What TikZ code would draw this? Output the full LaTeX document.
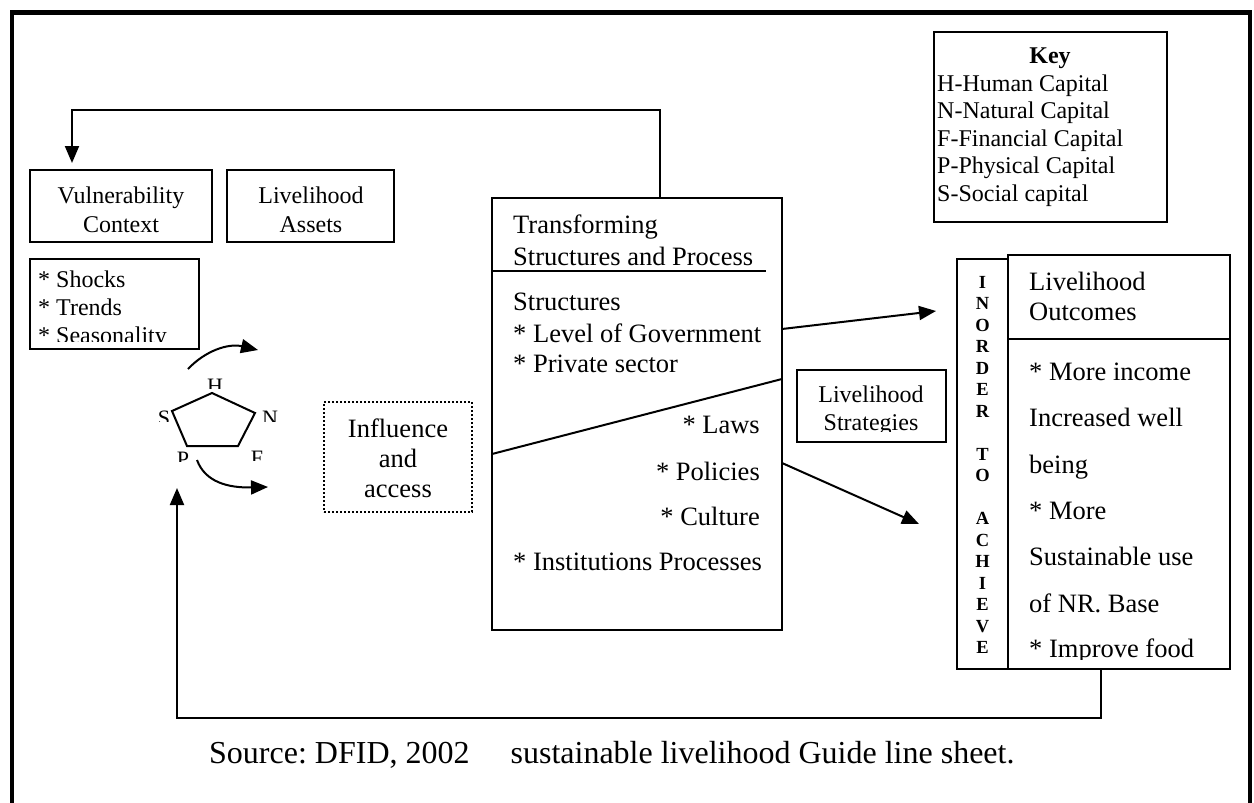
\documentclass[tikz,border=0pt]{standalone}
\usepackage{fontspec}
\setmainfont{Liberation Serif}
\usetikzlibrary{arrows.meta}
\frenchspacing
\begin{document}
\begin{tikzpicture}[x=1pt,y=-1pt,
  box/.style={draw,line width=2pt,inner sep=0pt,outer sep=0pt,anchor=north west},
  conn/.style={line width=2pt},
  arr/.style={line width=2pt,-{Triangle[length=17pt,width=14pt]}},
  ts/.style={font=\fontsize{24}{27}\selectfont,inner sep=0pt,anchor=base west},
  tsc/.style={font=\fontsize{24}{27}\selectfont,inner sep=0pt,anchor=base},
  tm/.style={font=\fontsize{26.5}{30}\selectfont,inner sep=0pt,anchor=base west},
  tmc/.style={font=\fontsize{26.5}{30}\selectfont,inner sep=0pt,anchor=base},
  tmr/.style={font=\fontsize{26.5}{30}\selectfont,inner sep=0pt,anchor=base east},
  colL/.style={font=\bfseries\fontsize{18.5}{21.5}\selectfont,inner sep=0pt,anchor=base},
  pl/.style={font=\fontsize{22}{24}\selectfont,inner sep=0pt,anchor=north},
]
\useasboundingbox (0,0) rectangle (1254,803);
\fill[white] (0,0) rectangle (1254,803);
% outer frame
\draw[line width=4.5pt,line join=miter] (12,810) -- (12,12.5) -- (1250,12.5) -- (1250,810);

% boxes
\node[box,minimum width=182pt,minimum height=72pt] (vc) at (30,170) {};
\node[tsc] (vc1) at (121,203) {Vulnerability};
\node[tsc] (vc2) at (121,232) {Context};

\node[box,minimum width=167pt,minimum height=72pt] (la) at (227,170) {};
\node[tsc] (la1) at (311,203) {Livelihood};
\node[tsc] (la2) at (311,232) {Assets};

\node[box,minimum width=169pt,minimum height=90pt] (sh) at (30,259) {};
\node[ts] (sh1) at (38,287) {* Shocks};
\node[ts] (sh2) at (38,315) {* Trends};
\begin{scope}
  \clip (32,320) rectangle (197,341);
  \node[ts] (sh3) at (38,343) {* Seasonality};
\end{scope}

% key
\node[box,minimum width=233pt,minimum height=190pt] (key) at (934,32) {};
\node[tsc,font=\bfseries\fontsize{24}{27}\selectfont] (k0) at (1050,63) {Key};
\node[ts] (k1) at (937,91) {H-Human Capital};
\node[ts] (k2) at (937,118.5) {N-Natural Capital};
\node[ts] (k3) at (937,146) {F-Financial Capital};
\node[ts] (k4) at (937,173.5) {P-Physical Capital};
\node[ts] (k5) at (937,201) {S-Social capital};

% transforming structures
\node[box,minimum width=290pt,minimum height=432pt] (tr) at (492,198) {};
\node[tm] (tr1) at (513,233) {Transforming};
\node[tm] (tr2) at (513,265) {Structures and Process};
\draw[conn] ([yshift=-73pt]tr.north west) -- ++(274,0);
\node[tm] (tr3) at (513,310) {Structures};
\node[tm] (tr4) at (513,342) {* Level of Government};
\node[tm] (tr5) at (513,372) {* Private sector};
\draw[conn] ([yshift=-256pt]tr.north west) -- ([yshift=-181pt]tr.north east);
\node[tmr] (tr6) at (760,433) {* Laws};
\node[tmr] (tr7) at (760,480) {* Policies};
\node[tmr] (tr8) at (760,525) {* Culture};
\node[tm] (tr9) at (513,570) {* Institutions Processes};

% influence and access
\node[box,draw,line width=1.5pt,dash pattern=on 2pt off 2pt,minimum width=148pt,minimum height=110pt] (ia) at (324,402) {};
\node[tmc] (ia1) at (398,437) {Influence};
\node[tmc] (ia2) at (398,467) {and};
\node[tmc] (ia3) at (398,497) {access};

% livelihood strategies
\node[box,minimum width=149pt,minimum height=72pt] (ls) at (797,370) {};
\node[tsc] (ls1) at (871,402) {Livelihood};
\begin{scope}
  \clip (799,410) rectangle (944,431);
  \node[tsc] (ls2) at (871,430) {Strategies};
\end{scope}

% in order to achieve column
\node[box,minimum width=51pt,minimum height=410pt] (col) at (957,259) {};
\foreach \l/\i in {I/0,N/1,O/2,R/3,D/4,E/5,R/6,T/8,O/9,A/11,C/12,H/13,I/14,E/15,V/16,E/17}
  \node[colL] (L\i) at (982.5,{288+21.5*\i}) {\l};

% livelihood outcomes
\node[box,minimum width=222pt,minimum height=414pt] (oc) at (1008,255) {};
\draw[conn] ([yshift=-84pt]oc.north west) -- ([yshift=-84pt]oc.north east);
\node[tm] (oc1) at (1029,290) {Livelihood};
\node[tm] (oc2) at (1029,320) {Outcomes};
\node[tm] (oc3) at (1029,380) {* More income};
\node[tm] (oc4) at (1029,426.5) {Increased well};
\node[tm] (oc5) at (1029,473) {being};
\node[tm] (oc6) at (1029,519) {* More};
\node[tm] (oc7) at (1029,565) {Sustainable use};
\node[tm] (oc8) at (1029,612) {of NR. Base};
\begin{scope}
  \clip (1010,630) rectangle (1228,659);
  \node[tm] (oc9) at (1029,657) {* Improve food};
\end{scope}

% pentagon
\coordinate (pH) at (212,393);
\coordinate (pN) at (255,413);
\coordinate (pF) at (238,446);
\coordinate (pP) at (187,446);
\coordinate (pS) at (172,411);
\draw[conn,line join=miter] (pH) -- (pN) -- (pF) -- (pP) -- (pS) -- cycle;
\begin{scope}
  \clip (200,375) rectangle (230,388);
  \node[pl] (lH) at (215,379) {H};
\end{scope}
\begin{scope}
  \clip (150,408) rectangle (172,421);
  \node[pl] (lS) at (164,411) {S};
\end{scope}
\begin{scope}
  \clip (258,408) rectangle (285,421);
  \node[pl] (lN) at (270,411) {N};
\end{scope}
\begin{scope}
  \clip (245,448) rectangle (270,460);
  \node[pl] (lF) at (257,451) {F};
\end{scope}
\begin{scope}
  \clip (170,449) rectangle (197,461);
  \node[pl] (lP) at (183,452) {P};
\end{scope}

% curved arrows around pentagon
\coordinate (c1s) at (188,369);
\coordinate (c1e) at (258,350);
\draw[arr] (c1s) .. controls (205,351) and (228,343) .. (c1e);
\coordinate (c2s) at (197,460);
\coordinate (c2e) at (268,487);
\draw[arr] (c2s) .. controls (205,482) and (228,488) .. (c2e);

% feedback loop top
\draw[arr] ([xshift=168pt]tr.north west) -- ++(0,-88) -| ([xshift=42pt,yshift=7pt]vc.north west);

% arrows to outcomes
\coordinate (a1e) at (936,311);
\coordinate (a2e) at (919,524);
\draw[arr] ([yshift=-131pt]tr.north east) -- (a1e);
\draw[arr] ([yshift=-265pt]tr.north east) -- (a2e);

% feedback loop bottom
\coordinate (loopend) at (177,488);
\draw[arr] ([xshift=93pt]oc.south west) -- ++(0,49) -| (loopend);

% source
\node[inner sep=0pt,anchor=base west,font=\fontsize{32}{36}\selectfont] (src) at (209,763) {Source: DFID, 2002\hspace{41pt}sustainable livelihood Guide line sheet.};
\end{tikzpicture}
\end{document}
